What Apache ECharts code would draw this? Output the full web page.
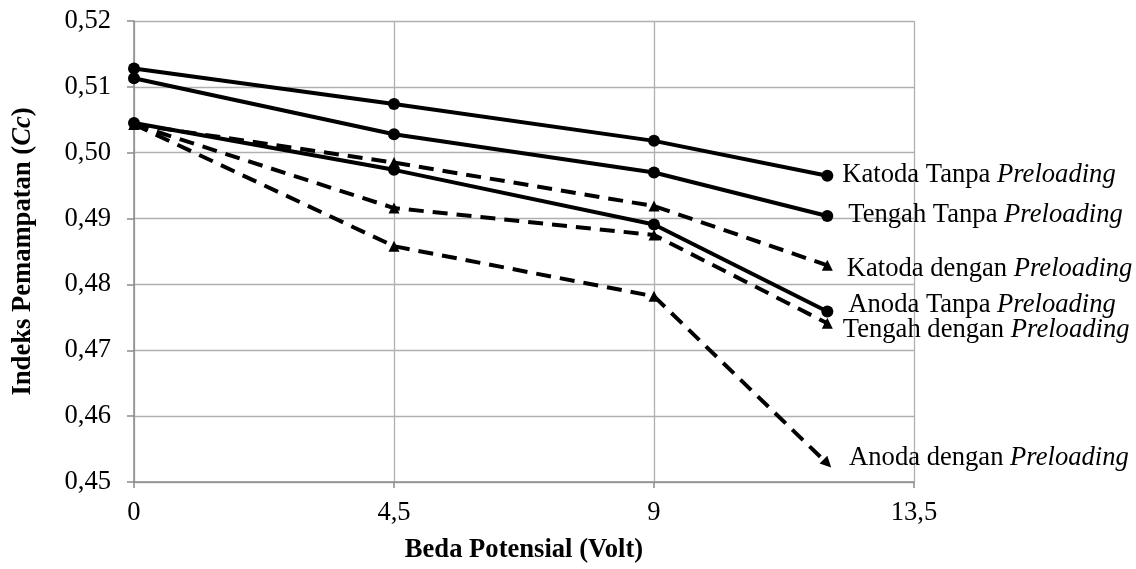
<!DOCTYPE html>
<html>
<head>
<meta charset="utf-8">
<script src="https://cdn.jsdelivr.net/npm/echarts@6/dist/echarts.min.js"></script>
<style>
html,body{margin:0;padding:0;background:#fff;}
#chart{width:1136px;height:569px;}
</style>
</head>
<body>
<div id="chart"></div>
<script>
// ---- data ----
const xValues = [0, 4.5, 9, 12];
const xTicks = [0, 4.5, 9, 13.5];
const yTicks = [0.45, 0.46, 0.47, 0.48, 0.49, 0.50, 0.51, 0.52];

const seriesNames = [
  'Katoda Tanpa', 'Tengah Tanpa', 'Anoda Tanpa',
  'Katoda dengan', 'Tengah dengan', 'Anoda dengan'
];
const katodaTanpa  = [0.5128, 0.5074, 0.5018, 0.4965];
const tengahTanpa  = [0.5113, 0.5028, 0.4970, 0.4904];
const anodaTanpa   = [0.5045, 0.4974, 0.4891, 0.4759];
const katodaDengan = [0.5043, 0.4985, 0.4919, 0.4829];
const tengahDengan = [0.5043, 0.4916, 0.4875, 0.4741];
const anodaDengan  = [0.5043, 0.4858, 0.4782, 0.4528];

const FONT = "'Liberation Serif','Times New Roman',serif";
const FS = 26.6;

function fmtNum(v){ return String(v).replace('.', ','); }

// label layout per series: [distance, dy]
const labelLayout = [
  [9, -1], [15, -1], [15, -6],
  [14, 4], [10, 7], [14, -6]
];
const solid = [true, true, true, false, false, false];
const valuesList = [katodaTanpa, tengahTanpa, anodaTanpa, katodaDengan, tengahDengan, anodaDengan];

const series = valuesList.map((vals, si) => {
  const isSolid = solid[si];
  const data = vals.map((v, i) => {
    const item = { value: [xValues[i], v] };
    if (i === vals.length - 1) {
      item.label = {
        show: true,
        position: 'right',
        distance: labelLayout[si][0],
        offset: [0, labelLayout[si][1]],
        formatter: '{n|' + seriesNames[si] + ' }{i|Preloading}',
        rich: {
          n: { fontFamily: FONT, fontSize: FS, color: '#000' },
          i: { fontFamily: FONT, fontSize: FS, fontStyle: 'italic', color: '#000' }
        }
      };
      if (si === 5) item.symbolRotate = -135;
    }
    return item;
  });
  return {
    name: seriesNames[si],
    type: 'line',
    data: data,
    symbol: isSolid ? 'circle' : 'triangle',
    symbolSize: isSolid ? 12 : 11,
    showAllSymbol: true,
    z: isSolid ? 3 : 2,
    lineStyle: {
      color: '#000',
      width: 4,
      type: isSolid ? 'solid' : [15, 9],
      cap: 'butt'
    },
    itemStyle: { color: '#000', borderWidth: 0 },
    emphasis: { disabled: true },
    animation: false
  };
});

const chart = echarts.init(document.getElementById('chart'), null, { renderer: 'canvas' });
chart.setOption({
  backgroundColor: '#fff',
  animation: false,
  grid: { left: 134, right: 222, top: 21, bottom: 83, containLabel: false },
  xAxis: {
    type: 'value',
    min: xTicks[0],
    max: xTicks[xTicks.length - 1],
    interval: xTicks[1] - xTicks[0],
    name: 'Beda Potensial (Volt)',
    nameLocation: 'middle',
    nameGap: 55,
    nameTextStyle: { fontFamily: FONT, fontSize: FS, fontWeight: 'bold', color: '#000' },
    axisLine: { show: true, onZero: false, lineStyle: { color: '#8c8c8c', width: 1.5 } },
    axisTick: { show: true, length: 6, lineStyle: { color: '#8c8c8c', width: 1.5 } },
    axisLabel: {
      fontFamily: FONT, fontSize: FS, color: '#000', margin: 18,
      formatter: v => fmtNum(v)
    },
    splitLine: { show: true, lineStyle: { color: '#b0b0b0', width: 1.3 } }
  },
  yAxis: {
    type: 'value',
    min: yTicks[0],
    max: yTicks[yTicks.length - 1],
    interval: 0.01,
    name: '{b|Indeks Pemampatan (}{bi|Cc}{b|)}',
    nameLocation: 'middle',
    nameGap: 97,
    nameRotate: 90,
    nameTextStyle: {
      fontFamily: FONT, fontSize: FS, fontWeight: 'bold', color: '#000',
      rich: {
        b: { fontFamily: FONT, fontSize: FS, fontWeight: 'bold', color: '#000' },
        bi: { fontFamily: FONT, fontSize: FS, fontWeight: 'bold', fontStyle: 'italic', color: '#000' }
      }
    },
    axisLine: { show: true, lineStyle: { color: '#8c8c8c', width: 1.5 } },
    axisTick: { show: true, length: 7, lineStyle: { color: '#8c8c8c', width: 1.5 } },
    axisLabel: {
      fontFamily: FONT, fontSize: FS, color: '#000', margin: 23,
      formatter: v => v.toFixed(2).replace('.', ',')
    },
    splitLine: { show: true, lineStyle: { color: '#b0b0b0', width: 1.3 } }
  },
  series: series
});
</script>
</body>
</html>
